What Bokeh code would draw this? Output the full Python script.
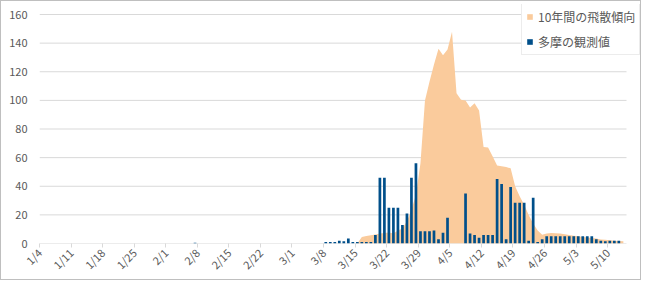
import datetime as dt
from math import pi

from bokeh.plotting import figure
from bokeh.models import Range1d, FixedTicker, Legend, LegendItem, ColumnDataSource, InlineStyleSheet
from bokeh.embed import file_html
from bokeh.resources import INLINE

YEAR = 2021
FIRST_DAY = "1/4"
LAST_SLOT_END = 130.2  # right end of the plot area, in days after 1/4
Y_MAX = 160

tick_labels = ["1/4", "1/11", "1/18", "1/25", "2/1", "2/8", "2/15", "2/22",
               "3/1", "3/8", "3/15", "3/22", "3/29", "4/5", "4/12", "4/19",
               "4/26", "5/3", "5/10"]
y_ticks = [0, 20, 40, 60, 80, 100, 120, 140, 160]

# 多摩の観測値 (observed)
obs_dates = ["2/7",
             "3/8", "3/9", "3/10", "3/11", "3/12", "3/13", "3/14", "3/15", "3/16",
             "3/17", "3/18", "3/19", "3/20", "3/21", "3/22", "3/23", "3/24",
             "3/25", "3/26", "3/27", "3/28", "3/29", "3/30", "3/31", "4/1",
             "4/2", "4/3", "4/4", "4/8", "4/9", "4/10", "4/11", "4/12", "4/13",
             "4/14", "4/15", "4/16", "4/17", "4/18", "4/19", "4/20", "4/21",
             "4/22", "4/23", "4/24", "4/25", "4/26", "4/27", "4/28", "4/29",
             "4/30", "5/1", "5/2", "5/3", "5/4", "5/5", "5/6", "5/7", "5/8",
             "5/9", "5/10", "5/11", "5/12"]
obs_values = [0.5,
              1, 1, 1, 2, 1.5, 3.5, 1, 1, 1,
              1, 1, 6, 46, 46, 25, 25, 25,
              13, 21, 46, 56, 8.5, 8.5, 8.5, 9,
              3, 7.5, 18, 35, 7, 6, 4, 6, 6,
              6, 45, 41.5, 3, 39.5, 28.5, 28.5, 28.5,
              2, 32, 1, 3, 5, 5, 5, 5,
              5, 5, 5, 5, 5, 5, 5, 3, 2,
              1.5, 2, 2, 2]

# 10年間の飛散傾向 (10-year trend)
trend_dates = ["3/15", "3/16", "3/17", "3/18", "3/19", "3/20", "3/21", "3/22",
               "3/23", "3/24", "3/25", "3/26", "3/27", "3/28", "3/29", "3/30",
               "3/31", "4/1", "4/2", "4/3", "4/4", "4/5", "4/6", "4/7", "4/8",
               "4/9", "4/10", "4/11", "4/12", "4/13", "4/14", "4/15", "4/16",
               "4/17", "4/18", "4/19", "4/20", "4/21", "4/22", "4/23", "4/24",
               "4/25", "4/26", "4/27", "4/28", "4/29", "4/30", "5/1", "5/2",
               "5/3", "5/4", "5/5", "5/6", "5/7", "5/8", "5/9", "5/10", "5/11",
               "5/12", "5/13"]
trend_values = [0, 4.6, 5.3, 5.8, 6.3, 6.9, 7.3, 7.6,
                7.0, 9.0, 10.5, 15.5, 23.5, 34, 56, 100,
                113, 125, 136, 131.5, 135.5, 148, 105, 100.5, 100,
                95, 98, 93, 67.5, 67, 61, 54.5, 54,
                53.5, 52.5, 40, 33, 27, 20, 14, 9,
                6.2, 7, 7.4, 7.2, 7, 6.5, 6, 5.5,
                5, 4.5, 4.2, 3.8, 3.5, 2.8, 2.6, 2.3, 2,
                1.7, 1.5]


def day_index(md):
    m, d = map(int, md.split("/"))
    fm, fd = map(int, FIRST_DAY.split("/"))
    return (dt.date(YEAR, m, d) - dt.date(YEAR, fm, fd)).days


obs_src = ColumnDataSource(dict(x=[day_index(d) + 0.5 for d in obs_dates], top=obs_values))
trend_src = ColumnDataSource(dict(x=[day_index(d) + 0.5 for d in trend_dates], y=trend_values))

FONT = "Noto Sans CJK JP"
TXT = "#595959"
GRID = "#D9D9D9"
W, H = 641, 280

# layout (canvas pixels)
FRAME_LEFT, FRAME_TOP, FRAME_BOTTOM = 39, 4, 243
PLOT_RIGHT, GRID_TOP = 626, 14
x_end = LAST_SLOT_END * (W - FRAME_LEFT) / (PLOT_RIGHT - FRAME_LEFT)
y_end = Y_MAX * (FRAME_BOTTOM - FRAME_TOP) / (FRAME_BOTTOM - GRID_TOP)

p = figure(width=W, height=H, output_backend="svg", toolbar_location=None,
           x_range=Range1d(0, x_end), y_range=Range1d(0, y_end),
           min_border_left=FRAME_LEFT, min_border_right=0,
           min_border_top=FRAME_TOP, min_border_bottom=H - FRAME_BOTTOM)
p.outline_line_color = None
p.background_fill_color = "white"
p.border_fill_color = "white"
# thin grey chart border drawn over the canvas, without changing the layout
p.stylesheets = [InlineStyleSheet(css=(
    ":host { position: relative; }"
    ":host::after { content: ''; position: absolute; left: 0; top: 0; right: 0; bottom: 0;"
    " border: 1px solid #BFBFBF; pointer-events: none; z-index: 100; }"))]

# horizontal gridlines limited to the plot area
grid_src = ColumnDataSource(dict(y=y_ticks, x0=[0] * len(y_ticks),
                                 x1=[LAST_SLOT_END] * len(y_ticks)))
p.segment(x0="x0", x1="x1", y0="y", y1="y", source=grid_src,
          line_color=GRID, line_width=1, level="underlay")

area_r = p.varea(x="x", y1=0, y2="y", source=trend_src, fill_color="#FACB9C", fill_alpha=1)
bar_r = p.vbar(x="x", top="top", width=0.6, source=obs_src, fill_color="#004F8A",
               line_color=None)

# axes
tick_pos = [day_index(t) for t in tick_labels]
p.xaxis.ticker = FixedTicker(ticks=tick_pos)
p.xaxis.major_label_overrides = {pos: lab for pos, lab in zip(tick_pos, tick_labels)}
p.xaxis.major_label_orientation = pi / 4
p.xaxis.axis_line_color = None
p.xaxis.major_tick_line_color = GRID
p.xaxis.major_tick_out = 4
p.xaxis.major_tick_in = 0
p.xaxis.minor_tick_line_color = None
p.xaxis.major_label_standoff = 3
p.xaxis.major_label_text_font = FONT
p.xaxis.major_label_text_font_size = "11px"
p.xaxis.major_label_text_color = TXT

p.yaxis.ticker = FixedTicker(ticks=y_ticks)
p.yaxis.axis_line_color = None
p.yaxis.major_tick_line_color = None
p.yaxis.minor_tick_line_color = None
p.yaxis.major_tick_out = 0
p.yaxis.major_label_standoff = 12
p.yaxis.major_label_text_font = FONT
p.yaxis.major_label_text_font_size = "11px"
p.yaxis.major_label_text_color = TXT

p.xgrid.grid_line_color = None
p.ygrid.grid_line_color = None

legend = Legend(items=[LegendItem(label="10年間の飛散傾向", renderers=[area_r]),
                       LegendItem(label="多摩の観測値", renderers=[bar_r])],
                location=(521 - FRAME_LEFT, FRAME_BOTTOM - 55), margin=0, padding=4,
                spacing=8, glyph_width=7, glyph_height=7, label_height=14,
                label_standoff=5, border_line_color=GRID,
                background_fill_color="white", background_fill_alpha=1,
                label_text_font=FONT, label_text_font_size="12px",
                label_text_color=TXT)
p.add_layout(legend)

open("out.html", "w").write(file_html(p, INLINE))
